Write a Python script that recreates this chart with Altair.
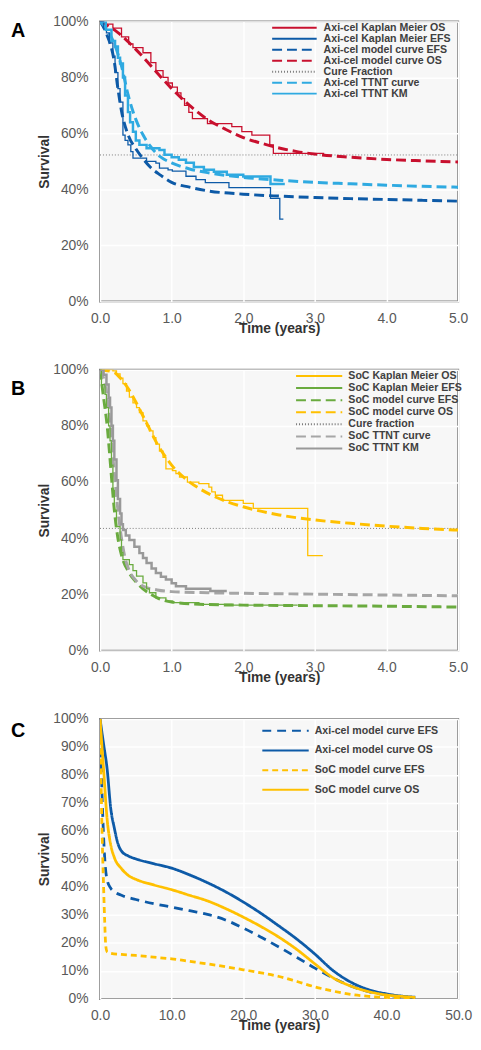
import altair as alt
import pandas as pd

# ---------------- Panel A (Axi-cel) ----------------
A_KM_OS_T = [0, 0.05, 0.18, 0.3, 0.4, 0.46, 0.6, 0.71, 0.78, 0.88, 0.95, 1.01, 1.08, 1.13, 1.18, 1.24, 1.29, 1.5, 1.84, 1.98, 2.12, 2.37, 2.42, 3.13]
A_KM_OS_S = [100, 99, 97.6, 94.5, 92, 90.6, 88.8, 85.3, 82.4, 80, 78, 76.5, 74.5, 72.4, 70, 67.5, 65.3, 63.5, 62.4, 60.6, 59.4, 55.9, 52.9, 52.9]

A_KM_EFS_T = [0, 0.05, 0.09, 0.13, 0.18, 0.21, 0.25, 0.28, 0.32, 0.35, 0.39, 0.43, 0.46, 0.65, 0.78, 0.83, 0.95, 1.01, 1.2, 1.34, 1.47, 1.8, 2.38, 2.51, 2.56]
A_KM_EFS_S = [100, 97.5, 95.9, 92.3, 87.6, 81.7, 76, 71.2, 59.4, 57.5, 55.9, 53.5, 51.2, 50, 49.4, 47.6, 47, 46.5, 44.7, 43.5, 42.4, 40.6, 36.8, 29.4, 29.4]

A_TTNT_KM_T = [0, 0.08, 0.16, 0.21, 0.25, 0.28, 0.32, 0.35, 0.39, 0.42, 0.46, 0.5, 0.55, 0.65, 0.83, 0.9, 1.0, 1.1, 1.2, 1.31, 1.45, 1.59, 1.77, 2.0, 2.38, 2.58]
A_TTNT_KM_S = [100, 97, 93, 91, 87, 85, 80, 73.5, 67.6, 64, 60.6, 57.5, 55.9, 54.7, 54.1, 52.4, 51.5, 50.6, 49.5, 48, 47, 46.3, 45.2, 44.6, 41.9, 41.9]

A_MODEL_OS_T = [0, 0.25, 0.5, 0.75, 1.0, 1.25, 1.5, 1.75, 2.0, 2.25, 2.5, 2.75, 3.0, 3.5, 4.0, 4.5, 5.0]
A_MODEL_OS_S = [100, 96, 90, 83, 76, 70, 65, 61.5, 58.5, 56.5, 54.8, 53.5, 52.6, 51.5, 50.7, 50.2, 49.8]

A_MODEL_EFS_T = [0, 0.1, 0.2, 0.25, 0.3, 0.4, 0.5, 0.6, 0.7, 0.85, 1.0, 1.25, 1.5, 2.0, 2.5, 3.0, 3.5, 4.0, 4.5, 5.0]
A_MODEL_EFS_S = [100, 95, 85.5, 76, 68, 59, 54.5, 51, 48, 45, 42.5, 40.8, 39.5, 38.3, 37.6, 37.1, 36.7, 36.4, 36.1, 35.8]

A_TTNT_CURVE_T = [0, 0.1, 0.2, 0.3, 0.4, 0.5, 0.6, 0.7, 0.85, 1.0, 1.25, 1.5, 2.0, 2.5, 3.0, 3.5, 4.0, 4.5, 5.0]
A_TTNT_CURVE_S = [100, 97, 92, 84, 73, 65, 59.5, 55.5, 51.5, 49.5, 47.3, 46, 44.3, 43.3, 42.5, 42, 41.5, 41.1, 40.8]

A_CURE_T = [0, 5]
A_CURE_S = [52.3, 52.3]

A_SERIES = ["Axi-cel Kaplan Meier OS", "Axi-cel Kaplan Meier EFS", "Axi-cel model curve EFS",
            "Axi-cel model curve OS", "Cure Fraction", "Axi-cel TTNT curve", "Axi-cel TTNT KM"]

# ---------------- Panel B (SoC) ----------------
B_KM_OS_T = [0, 0.18, 0.23, 0.28, 0.32, 0.37, 0.41, 0.46, 0.51, 0.55, 0.6, 0.65, 0.69, 0.74, 0.78, 0.83, 0.88, 0.92, 1.01, 1.06, 1.11, 1.22, 1.38, 1.52, 1.56, 1.61, 1.71, 2.0, 2.14, 2.9, 3.11]
B_KM_OS_S = [100, 99.6, 98.5, 97, 95, 92.4, 90.2, 88.2, 86.5, 84.7, 81.8, 80, 78.2, 75.8, 73.5, 71, 68.8, 64.7, 64.1, 63, 61.8, 60, 59.4, 58.2, 56.5, 55.3, 53.5, 52.4, 50.6, 33.8, 33.8]

B_KM_EFS_T = [0, 0.02, 0.07, 0.09, 0.12, 0.14, 0.16, 0.18, 0.2, 0.23, 0.28, 0.3, 0.32, 0.41, 0.46, 0.51, 0.6, 0.65, 0.69, 0.78, 0.92, 1.01, 1.38, 1.84, 2.76]
B_KM_EFS_S = [100, 94.7, 91.2, 86.5, 80, 74.7, 66, 57, 50, 44.1, 39.4, 35, 32.4, 30.6, 28.5, 26.5, 24.1, 22, 20.6, 18.8, 17.6, 17.1, 16.5, 16.2, 16.2]

B_TTNT_KM_T = [0, 0.05, 0.09, 0.12, 0.14, 0.16, 0.18, 0.2, 0.23, 0.25, 0.28, 0.3, 0.32, 0.36, 0.41, 0.48, 0.55, 0.6, 0.65, 0.72, 0.78, 0.85, 0.92, 1.0, 1.06, 1.2, 1.54, 1.77]
B_TTNT_KM_S = [100, 98.2, 94.7, 90, 86.5, 80, 74.7, 68, 60.6, 54, 48.8, 45, 42.9, 41, 39.4, 37, 34.7, 33, 31.2, 29.2, 27.6, 26.3, 25.3, 24, 22.9, 22, 21.2, 21.2]

B_MODEL_OS_T = [0, 0.2, 0.3, 0.4, 0.5, 0.6, 0.7, 0.8, 0.9, 1.0, 1.2, 1.4, 1.6, 1.8, 2.0, 2.5, 3.0, 3.5, 4.0, 4.5, 5.0]
B_MODEL_OS_S = [100, 99, 96.5, 93, 88.5, 83.5, 78.5, 73.5, 69.5, 66, 61, 57.5, 54.8, 52.8, 51.2, 48.3, 46.5, 45.3, 44.3, 43.5, 42.9]

B_MODEL_EFS_T = [0, 0.05, 0.1, 0.15, 0.2, 0.25, 0.3, 0.4, 0.5, 0.6, 0.7, 0.8, 1.0, 1.5, 2.0, 3.0, 4.0, 5.0]
B_MODEL_EFS_S = [100, 90, 80, 65, 50, 40, 34, 28, 24.5, 22, 20.2, 18.8, 17.3, 16.4, 16.2, 16.0, 15.8, 15.5]

B_TTNT_CURVE_T = [0, 0.05, 0.1, 0.15, 0.2, 0.25, 0.3, 0.35, 0.4, 0.5, 0.6, 0.8, 1.0, 1.5, 2.0, 3.0, 4.0, 5.0]
B_TTNT_CURVE_S = [100, 97, 90, 78, 63, 50, 40, 33, 29, 25, 23, 21.6, 21, 20.6, 20.4, 20.1, 19.8, 19.5]

B_CURE_T = [0, 5]
B_CURE_S = [43.5, 43.5]

B_SERIES = ["SoC Kaplan Meier OS", "SoC Kaplan Meier EFS", "SoC model curve EFS",
            "SoC model curve OS", "Cure fraction", "SoC TTNT curve", "SoC TTNT KM"]

# ---------------- Panel C (lifetime extrapolation) ----------------
C_AXI_EFS_T = [0, 0.1, 0.25, 0.5, 0.75, 1, 1.5, 2, 3, 5, 7.5, 10, 12.5, 15, 17.5, 20, 22.5, 25, 27.5, 30, 32.5, 35, 37.5, 40, 42.5, 44]
C_AXI_EFS_S = [100, 92, 76, 58, 47, 42.5, 39.5, 38.3, 37, 35.5, 34, 32.8, 31.5, 30.2, 28.2, 25.3, 22, 18.5, 14.8, 11, 7.5, 4.6, 2.6, 1.4, 0.6, 0.4]

C_AXI_OS_T = [0, 0.5, 1, 1.5, 2, 2.5, 3, 4, 5, 7.5, 10, 12.5, 15, 17.5, 20, 22.5, 25, 27.5, 30, 32.5, 35, 37.5, 40, 42.5, 44]
C_AXI_OS_S = [100, 91, 82, 68, 61, 55.5, 52.8, 51, 50, 48.3, 46.7, 44.3, 41.5, 38.3, 34.6, 30.5, 26, 21.3, 16, 10.2, 6, 3.3, 1.8, 0.9, 0.6]

C_SOC_EFS_T = [0, 0.1, 0.25, 0.5, 0.65, 0.8, 1, 1.5, 3, 5, 7.5, 10, 12.5, 15, 17.5, 20, 22.5, 25, 27.5, 30, 32.5, 35, 37.5, 40, 44]
C_SOC_EFS_S = [100, 85, 64, 40, 28, 19, 16.8, 16.3, 15.9, 15.5, 14.9, 14.3, 13.4, 12.5, 11.5, 10.4, 9.3, 8, 6.2, 4.3, 2.8, 1.6, 0.9, 0.5, 0.3]

C_SOC_OS_T = [0, 0.5, 1, 1.5, 2, 3, 4, 5, 7.5, 10, 12.5, 15, 17.5, 20, 22.5, 25, 27.5, 30, 32.5, 35, 37.5, 40, 42.5, 44]
C_SOC_OS_S = [100, 82, 64, 55, 50.5, 46.5, 44, 42.7, 40.7, 39, 37, 35, 32.3, 29.2, 25.8, 22, 17.6, 12.5, 7.6, 4.6, 2.6, 1.4, 0.8, 0.5]

C_SERIES = ["Axi-cel model curve EFS", "Axi-cel model curve OS", "SoC model curve EFS", "SoC model curve OS"]

# ---------------- styles ----------------
FONT = "Liberation Sans"
RED = "#c8102e"
DBLUE = "#0d5aa7"
LBLUE = "#2faae1"
CURE = "#7a7a7a"
YEL = "#ffc000"
GRN = "#6aab3f"
GRY = "#a6a6a6"
GRY2 = "#999999"
SOLID = [1, 0]
DASH = [10, 5]
DOT = [1, 2]

A_STYLE = {
    "colors": [RED, DBLUE, DBLUE, RED, CURE, LBLUE, LBLUE],
    "dashes": [SOLID, SOLID, DASH, DASH, DOT, DASH, SOLID],
    "widths": [1.3, 1.3, 3, 3, 1, 3, 2.5],
}
B_STYLE = {
    "colors": [YEL, GRN, GRN, YEL, CURE, GRY, GRY2],
    "dashes": [SOLID, SOLID, DASH, DASH, DOT, DASH, SOLID],
    "widths": [1.3, 1.3, 3, 3, 1, 3, 2.5],
}
C_STYLE = {
    "colors": [DBLUE, DBLUE, YEL, YEL],
    "dashes": [[9, 6], SOLID, [6, 4], SOLID],
    "widths": [2.8, 2.8, 2.8, 2.8],
}


def frame(items, series, style):
    rows = []
    for name, ts, ss in items:
        w = style["widths"][series.index(name)]
        for t, s in zip(ts, ss):
            rows.append({"series": name, "t": t, "s": s, "w": w})
    return pd.DataFrame(rows)


def panel(letter, letter_y, layers, series, style, xmax, xstep, ystep, height, legopts):
    xs = alt.X("t:Q", scale=alt.Scale(domain=[0, xmax], nice=False),
               axis=alt.Axis(values=list(range(0, xmax + 1, xstep)), format=".1f", title="Time (years)",
                             labelPadding=10, titlePadding=-4))
    ys = alt.Y("s:Q", scale=alt.Scale(domain=[0, 100], nice=False),
               axis=alt.Axis(values=list(range(0, 101, ystep)), labelExpr="datum.value + '%'", title="Survival",
                             labelPadding=12, titlePadding=1))
    leg = alt.Legend(title=None, orient="none", symbolType="stroke", symbolStrokeWidth=2,
                     labelFont=FONT, labelFontWeight="bold", labelColor="#404040", labelFontSize=10.7,
                     padding=0, labelLimit=300, clipHeight=10, **legopts)
    color = alt.Color("series:N", scale=alt.Scale(domain=series, range=style["colors"]), legend=leg)
    dash = alt.StrokeDash("series:N", scale=alt.Scale(domain=series, range=style["dashes"]), legend=leg)
    charts = []
    for df, interp in layers:
        charts.append(alt.Chart(df).mark_line(interpolate=interp, clip=True).encode(
            x=xs, y=ys, color=color, strokeDash=dash,
            strokeWidth=alt.StrokeWidth("w:Q", scale=None), detail="series:N"))
    lab = alt.Chart(pd.DataFrame({"label": [letter]})).mark_text(
        font=FONT, fontSize=20, fontWeight="bold", color="#000000", align="left", baseline="middle"
    ).encode(text="label:N", x=alt.value(-90), y=alt.value(letter_y))
    return alt.layer(*charts, lab).properties(width=362, height=height)


a_model = frame([("Axi-cel model curve EFS", A_MODEL_EFS_T, A_MODEL_EFS_S),
                 ("Axi-cel model curve OS", A_MODEL_OS_T, A_MODEL_OS_S),
                 ("Axi-cel TTNT curve", A_TTNT_CURVE_T, A_TTNT_CURVE_S)], A_SERIES, A_STYLE)
a_km = frame([("Axi-cel Kaplan Meier OS", A_KM_OS_T, A_KM_OS_S),
              ("Axi-cel Kaplan Meier EFS", A_KM_EFS_T, A_KM_EFS_S),
              ("Axi-cel TTNT KM", A_TTNT_KM_T, A_TTNT_KM_S)], A_SERIES, A_STYLE)
a_cure = frame([("Cure Fraction", A_CURE_T, A_CURE_S)], A_SERIES, A_STYLE)

b_model = frame([("SoC model curve EFS", B_MODEL_EFS_T, B_MODEL_EFS_S),
                 ("SoC model curve OS", B_MODEL_OS_T, B_MODEL_OS_S),
                 ("SoC TTNT curve", B_TTNT_CURVE_T, B_TTNT_CURVE_S)], B_SERIES, B_STYLE)
b_km = frame([("SoC Kaplan Meier OS", B_KM_OS_T, B_KM_OS_S),
              ("SoC Kaplan Meier EFS", B_KM_EFS_T, B_KM_EFS_S),
              ("SoC TTNT KM", B_TTNT_KM_T, B_TTNT_KM_S)], B_SERIES, B_STYLE)
b_cure = frame([("Cure fraction", B_CURE_T, B_CURE_S)], B_SERIES, B_STYLE)

c_model = frame([("Axi-cel model curve EFS", C_AXI_EFS_T, C_AXI_EFS_S),
                 ("Axi-cel model curve OS", C_AXI_OS_T, C_AXI_OS_S),
                 ("SoC model curve EFS", C_SOC_EFS_T, C_SOC_EFS_S),
                 ("SoC model curve OS", C_SOC_OS_T, C_SOC_OS_S)], C_SERIES, C_STYLE)

pA = panel("A", 10, [(a_cure, "linear"), (a_model, "monotone"), (a_km, "step-after")],
           A_SERIES, A_STYLE, 5, 1, 20, 283,
           dict(legendX=173, legendY=1.4, symbolSize=2025, labelOffset=6, rowPadding=0.1))
pB = panel("B", 20, [(b_cure, "linear"), (b_model, "monotone"), (b_km, "step-after")],
           B_SERIES, B_STYLE, 5, 1, 20, 284,
           dict(legendX=197, legendY=1.45, symbolSize=2180, labelOffset=5, rowPadding=1.2))
pC = panel("C", 12.6, [(c_model, "monotone")],
           C_SERIES, C_STYLE, 50, 10, 10, 283,
           dict(legendX=163, legendY=7, symbolSize=2200, labelOffset=5, rowPadding=8.9))

chart = alt.vconcat(pA, pB, pC, spacing=69, bounds="flush").resolve_scale(
    color="independent", strokeDash="independent"
).resolve_legend(color="independent", strokeDash="independent").configure_view(
    fill="#f7f7f7", stroke="#7f7f7f", strokeWidth=2
).configure_axis(
    grid=True, gridColor="#ffffff", gridWidth=1.5, domain=False, ticks=False,
    labelFont=FONT, labelFontSize=14, labelColor="#595959", labelFlush=False,
    titleFont=FONT, titleFontSize=14, titleFontWeight="bold", titleColor="#333333"
).properties(
    padding={"left": 2, "top": 0, "right": 0, "bottom": 0}, background="#ffffff")

chart.save("out.html", embed_options={"renderer": "svg", "actions": False})
